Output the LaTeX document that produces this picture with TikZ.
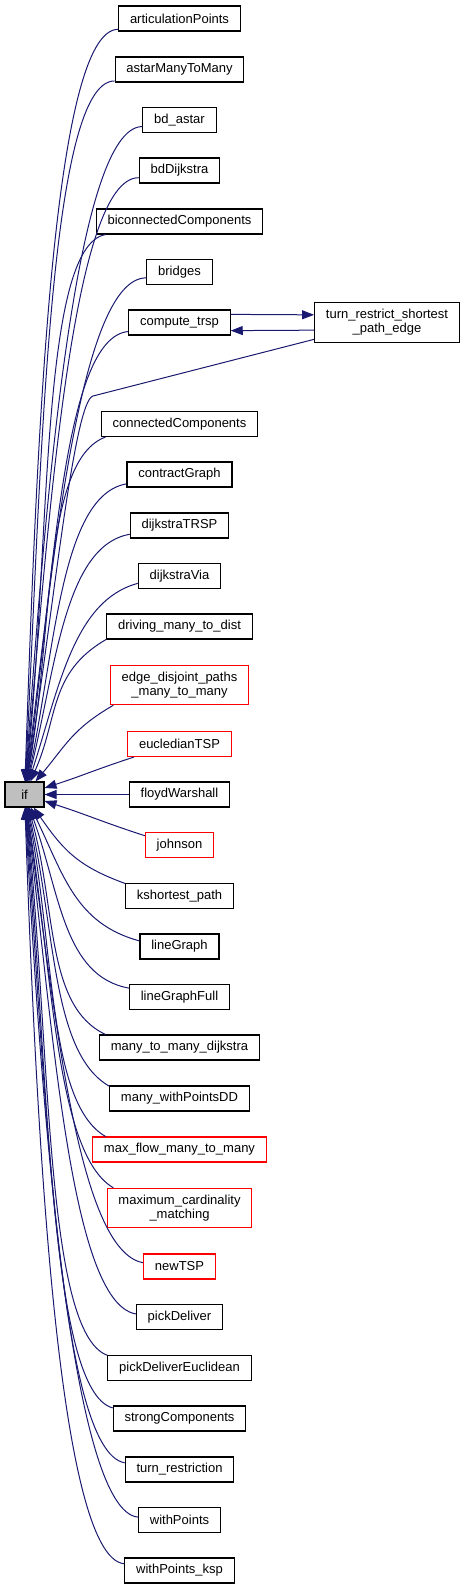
\documentclass[tikz,border=0pt]{standalone}
\usepackage{fontspec}
\usetikzlibrary{arrows.meta}
\newfontfamily\dxfont{Liberation Sans}
\definecolor{edgeblue}{HTML}{191970}
\definecolor{boxred}{HTML}{FF0000}
\definecolor{ifgray}{HTML}{BFBFBF}

\begin{document}
\begin{tikzpicture}[
		x=0.75pt, y=0.75pt,
		fn/.style={rectangle, draw=black, line width=0.8pt, align=center,
			font=\dxfont\fontsize{9.75pt}{10.5pt}\selectfont,
			inner xsep=8.5pt, inner ysep=0pt, minimum height=18.75pt},
		fnred/.style={fn, draw=boxred},
		two/.style={minimum height=29.5pt},
		e/.style={-{Triangle[length=9pt, width=6.75pt]}, edgeblue, line width=0.75pt,
			looseness=1.1, out max distance=50pt},
		]
		\useasboundingbox (0,0) rectangle (465,-1589);
		
		% callee
		\node[fn, fill=ifgray, minimum width=29.25pt] (if) at (24.5,-794.5) {if};
		
		% callers
		\node[fn]		(artp)	at (179.5,-18.5)	{articulationPoints};
		\node[fn]		(astar)	at (179.5,-69.5)	{astarManyToMany};
		\node[fn]		(bdas)	at (179.5,-120)		{bd\_astar};
		\node[fn]		(bddj)	at (179.5,-170.5)	{bdDijkstra};
		\node[fn]		(bicc)	at (179.5,-221.5)	{biconnectedComponents};
		\node[fn]		(brdg)	at (179.5,-272)		{bridges};
		\node[fn]		(ctrsp)	at (179.5,-322.5)	{compute\_trsp};
		\node[fn, two]	(trspe)	at (387,-322.5)		{turn\_restrict\_shortest\\\_path\_edge};
		\node[fn]		(conn)	at (179.5,-424)		{connectedComponents};
		\node[fn]		(contr)	at (179.5,-474.5)	{contractGraph};
		\node[fn]		(dtrsp)	at (179.5,-525.5)	{dijkstraTRSP};
		\node[fn]		(dvia)	at (179.5,-576)		{dijkstraVia};
		\node[fn]		(driv)	at (179.5,-626.5)	{driving\_many\_to\_dist};
		\node[fnred, two] (edp)	at (179.5,-685)		{edge\_disjoint\_paths\\\_many\_to\_many};
		\node[fnred]	(eucl)	at (179.5,-744)		{eucledianTSP};
		\node[fn]		(floyd)	at (179.5,-794.5)	{floydWarshall};
		\node[fnred]	(john)	at (179.5,-845)		{johnson};
		\node[fn]		(kshp)	at (179.5,-896)		{kshortest\_path};
		\node[fn]		(lgr)	at (179.5,-946.5)	{lineGraph};
		\node[fn]		(lgrf)	at (179.5,-997)		{lineGraphFull};
		\node[fn]		(mmdj)	at (179.5,-1047.5)	{many\_to\_many\_dijkstra};
		\node[fn]		(mwpdd)	at (179.5,-1098.5)	{many\_withPointsDD};
		\node[fnred]	(mflow)	at (179.5,-1149.5)	{max\_flow\_many\_to\_many};
		\node[fnred, two] (mcard) at (179.5,-1208)	{maximum\_cardinality\\\_matching};
		\node[fnred]	(ntsp)	at (179.5,-1266.5)	{newTSP};
		\node[fn]		(pdel)	at (179.5,-1317)	{pickDeliver};
		\node[fn]		(pdeu)	at (179.5,-1368)	{pickDeliverEuclidean};
		\node[fn]		(strc)	at (179.5,-1418.5)	{strongComponents};
		\node[fn]		(turnr)	at (179.5,-1469.5)	{turn\_restriction};
		\node[fn]		(wpts)	at (179.5,-1520)	{withPoints};
		\node[fn]		(wksp)	at (179.5,-1570.5)	{withPoints\_ksp};
		
		% calls into if
		\foreach \n/\sa/\oa/\ia in {artp/190/180/88, astar/190/180/87, bdas/190/180/86,
				bddj/190/180/85, bicc/190/190/84, brdg/190/180/83, ctrsp/190/185/82,
				conn/190/200/80, contr/190/190/78, dtrsp/190/190/76, dvia/190/195/72,
				driv/190/210/66, edp/197/210/50, eucl/196/198/18, floyd/180/180/0,
				john/165/162/-18, kshp/167/160/-55, lgr/172/165/-64, lgrf/170/170/-70,
				mmdj/170/155/-74, mwpdd/170/150/-77, mflow/170/150/-79, mcard/163/150/-81,
				ntsp/174/170/-82, pdel/176/170/-83, pdeu/170/160/-84, strc/171/165/-85,
				turnr/173/170/-86, wpts/176/175/-87, wksp/173/175/-88}
			\draw[e] (\n.\sa) to[out=\oa, in=\ia] (if.\ia);
		
		\coordinate (trbend) at (93,-396);
		\draw[e] (trspe.193) -- (trbend) to[out=195, in=81, out distance=15pt] (if.81);
		\draw[e] (ctrsp.9) -- (trspe.174);
		\draw[e] (trspe.186) -- (ctrsp.-9);
	\end{tikzpicture}
\end{document}
